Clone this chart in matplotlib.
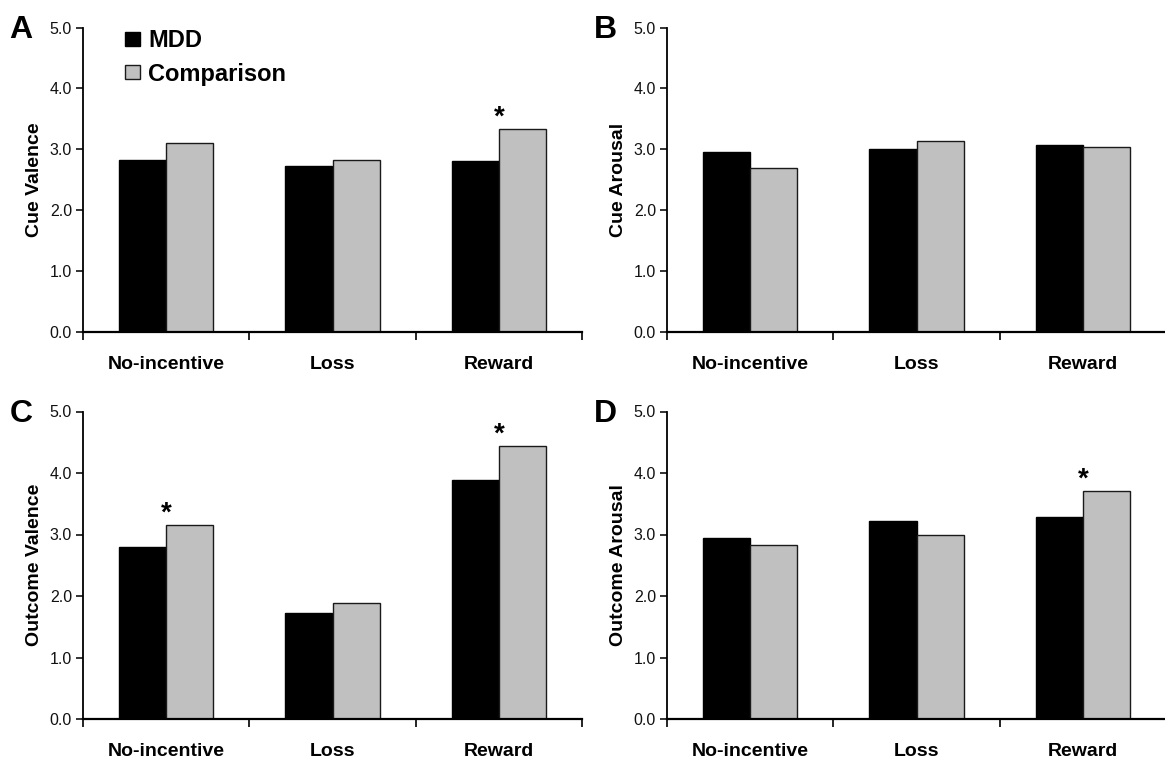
import matplotlib
matplotlib.use("Agg")
import matplotlib.pyplot as plt
from matplotlib.patches import Patch
import numpy as np

plt.rcParams['font.family'] = ['Liberation Sans', 'DejaVu Sans']

categories = ["No-incentive", "Loss", "Reward"]
groups = ["MDD", "Comparison"]

cue_valence_mdd = [2.82, 2.72, 2.80]
cue_valence_cmp = [3.10, 2.82, 3.33]
cue_arousal_mdd = [2.96, 3.01, 3.07]
cue_arousal_cmp = [2.70, 3.14, 3.04]
outcome_valence_mdd = [2.79, 1.73, 3.88]
outcome_valence_cmp = [3.15, 1.89, 4.44]
outcome_arousal_mdd = [2.95, 3.22, 3.28]
outcome_arousal_cmp = [2.83, 2.99, 3.71]

panel_letters = ["A", "B", "C", "D"]
y_labels = ["Cue Valence", "Cue Arousal", "Outcome Valence", "Outcome Arousal"]
# categories marked with a significance star, per panel
significant = [[2], [], [0, 2], [2]]

y_ticks = [0.0, 1.0, 2.0, 3.0, 4.0, 5.0]

W, H = 1165, 764
fig = plt.figure(figsize=(W / 100, H / 100), dpi=100)

# axes rectangles in pixels: left, top-of-axis (5.0), bottom (0.0)
ax_left = [83, 667, 83, 667]
ax_top = [27.5, 27.5, 411.5, 411.5]
ax_bot = [332, 332, 719, 719]
ax_w = 499

panels = [
    (cue_valence_mdd, cue_valence_cmp),
    (cue_arousal_mdd, cue_arousal_cmp),
    (outcome_valence_mdd, outcome_valence_cmp),
    (outcome_arousal_mdd, outcome_arousal_cmp),
]

black = "#000000"
grey = "#c0c0c0"
bar_w = 0.283
centers = np.arange(len(categories)) + 0.5

for i, (mdd, cmp_) in enumerate(panels):
    rect = [ax_left[i] / W, 1 - ax_bot[i] / H, ax_w / W, (ax_bot[i] - ax_top[i]) / H]
    ax = fig.add_axes(rect)
    ax.bar(centers - bar_w / 2, mdd, width=bar_w, color=black, edgecolor=black, linewidth=1.0, zorder=2)
    ax.bar(centers + bar_w / 2, cmp_, width=bar_w, color=grey, edgecolor="#1a1a1a", linewidth=1.0, zorder=2)

    ax.set_xlim(0, 3)
    ax.set_ylim(0, 5)
    ax.spines['top'].set_visible(False)
    ax.spines['right'].set_visible(False)
    ax.spines['left'].set_linewidth(1.3)
    ax.spines['bottom'].set_linewidth(1.6)

    ax.set_yticks(y_ticks)
    ax.set_yticklabels([f"{v:.1f}" for v in y_ticks], fontsize=11.5)
    ax.tick_params(axis='y', direction='out', length=5, width=1.2, pad=3, colors='#111111')

    # boundary ticks between categories, category names centred below
    ax.set_xticks([0, 1, 2, 3])
    ax.set_xticklabels([])
    ax.tick_params(axis='x', which='major', direction='out', length=6, width=1.2)
    ax.set_xticks(centers, minor=True)
    ax.set_xticklabels(categories, minor=True, fontsize=14, fontweight='bold')
    ax.tick_params(axis='x', which='minor', length=0, pad=17)

    ax.set_ylabel(y_labels[i], fontsize=14, fontweight='bold', labelpad=5)

    for k in significant[i]:
        ax.annotate("*", xy=(centers[k], cmp_[k]), xytext=(0, 3), textcoords='offset points',
                    ha='center', va='baseline', fontsize=20, fontweight='bold')

    fig.text((ax_left[i] - 62) / W, 1 - (ax_top[i] + 10) / H, panel_letters[i],
             fontsize=23, fontweight='bold', ha='center', va='baseline')

    if i == 0:
        handles = [Patch(facecolor=black, edgecolor=black, linewidth=1.0),
                   Patch(facecolor=grey, edgecolor="#1a1a1a", linewidth=1.0)]
        fig.legend(handles, groups, loc='upper left', bbox_to_anchor=(125 / W, 1 - 29 / H),
                   frameon=False, borderpad=0, borderaxespad=0,
                   handlelength=0.64, handleheight=0.55, handletextpad=0.35,
                   labelspacing=0.45, prop={'size': 17, 'weight': 'bold'})

fig.savefig("out.png", dpi=100)
